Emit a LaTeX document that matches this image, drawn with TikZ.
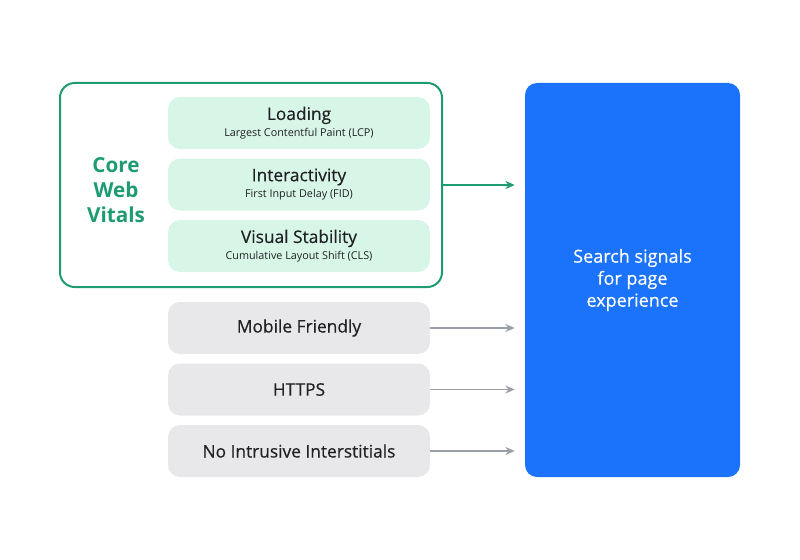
\documentclass[tikz,border=0pt]{standalone}
\usepackage{fontspec}
\usetikzlibrary{arrows.meta}
\setmainfont{Open Sans}
\IfFontExistsTF{Open Sans SemiBold}{\newfontfamily\medfont{Open Sans SemiBold}}{\newfontfamily\medfont{Open Sans}[FakeBold=0.4]}
\definecolor{cwvgreen}{HTML}{1E9B72}
\definecolor{mint}{HTML}{D8F6E8}
\definecolor{lightgray}{HTML}{E8E8EA}
\definecolor{arrowgray}{HTML}{9AA0A6}
\definecolor{signalblue}{HTML}{1A73FA}
\definecolor{darktext}{HTML}{202124}
\newcommand{\mtitle}[1]{{\medfont\fontsize{13}{15}\selectfont #1}}
\newcommand{\msub}[1]{{\fontsize{8.1}{9}\selectfont #1}}
\tikzset{
  metric/.style={fill=mint,rounded corners=9pt,minimum width=196.5pt,minimum height=39pt,inner sep=0pt,align=center,text=darktext},
  extra/.style={fill=lightgray,rounded corners=9pt,minimum width=196.5pt,minimum height=39pt,inner sep=0pt,font=\medfont\fontsize{13}{15}\selectfont,text=darktext}
}
\begin{document}
\begin{tikzpicture}[>={Stealth[length=7pt,width=6pt]},x=0.75pt,y=-0.75pt]
		\useasboundingbox (0,0) rectangle (800,560);
		% core web vitals group
		\node[draw=cwvgreen,line width=1.5pt,rounded corners=11pt,minimum width=286.5pt,minimum height=153pt,inner sep=0pt] (cwv) at (251,185) {};
		\node[text=cwvgreen,font=\bfseries\fontsize{15.5}{19}\selectfont,align=center] (cwvlabel) at (116,190) {Core\\Web\\Vitals};
		\node[metric] (lcp) at (299,123) {\mtitle{Loading}\\[0.5pt]\msub{Largest Contentful Paint (LCP)}};
		\node[metric] (fid) at (299,184.5) {\mtitle{Interactivity}\\[0.5pt]\msub{First Input Delay (FID)}};
		\node[metric] (cls) at (299,246) {\mtitle{Visual Stability}\\[0.5pt]\msub{Cumulative Layout Shift (CLS)}};
		% other signals
		\node[extra] (mobile) at (299,328) {Mobile Friendly};
		\node[extra] (https) at (299,389.5) {HTTPS};
		\node[extra] (interst) at (299,451) {No Intrusive Interstitials};
		% target
		\node[fill=signalblue,rounded corners=9pt,minimum width=161.25pt,minimum height=295.5pt,inner sep=0pt,text=white,align=center,font=\medfont\fontsize{13.5}{16.5}\selectfont] (sig) at (632.5,280) {Search signals\\for page\\experience};
		\draw[->,cwvgreen,line width=1.2pt,shorten >=7.5pt] (cwv.east) -- (cwv.east -| sig.west);
		\foreach \n in {mobile,https,interst}
		\draw[->,arrowgray,line width=1.2pt,shorten >=7.5pt] (\n.east) -- (\n.east -| sig.west);
\end{tikzpicture}
\end{document}
